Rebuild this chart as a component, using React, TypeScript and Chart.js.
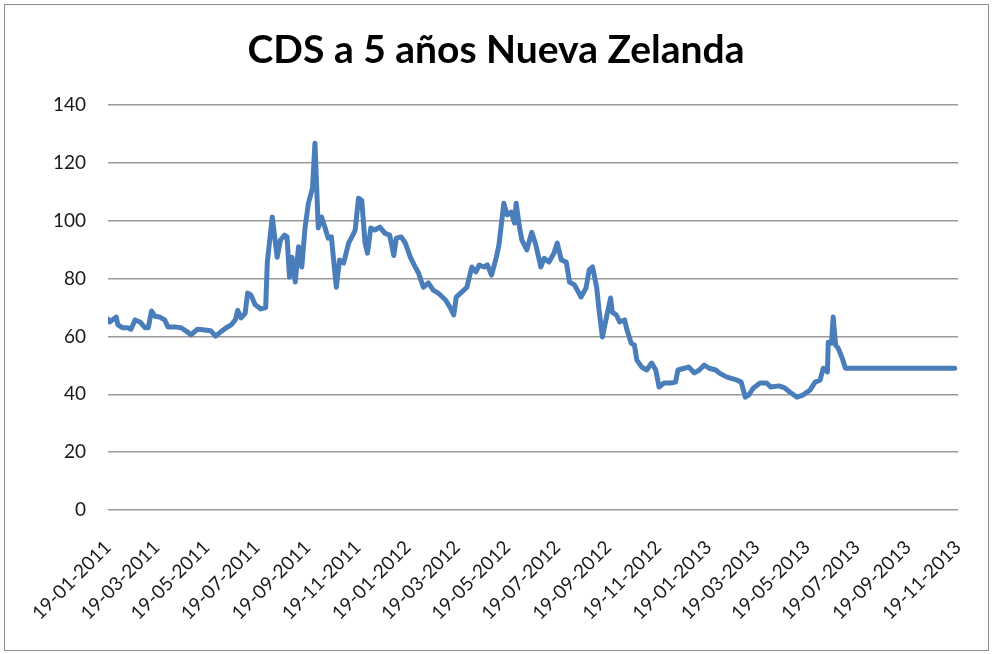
import React, { useEffect, useRef } from "react";
import { Chart, registerables } from "chart.js";

Chart.register(...registerables);

const TITLE = "CDS a 5 años Nueva Zelanda";

const dates: string[] = [
  "2011-01-19", "2011-01-21", "2011-01-29", "2011-01-31", "2011-02-06", "2011-02-12", "2011-02-16", "2011-02-21",
  "2011-02-27", "2011-03-05", "2011-03-09", "2011-03-13", "2011-03-17", "2011-03-23", "2011-03-29", "2011-04-02",
  "2011-04-10", "2011-04-18", "2011-04-26", "2011-04-30", "2011-05-08", "2011-05-17", "2011-05-24", "2011-05-30",
  "2011-06-05", "2011-06-12", "2011-06-18", "2011-06-23", "2011-06-26", "2011-06-30", "2011-07-05", "2011-07-08",
  "2011-07-12", "2011-07-17", "2011-07-24", "2011-07-30", "2011-08-01", "2011-08-07", "2011-08-13", "2011-08-17",
  "2011-08-22", "2011-08-25", "2011-08-28", "2011-08-31", "2011-09-04", "2011-09-08", "2011-09-12", "2011-09-16",
  "2011-09-20", "2011-09-25", "2011-09-28", "2011-10-02", "2011-10-06", "2011-10-10", "2011-10-14", "2011-10-18",
  "2011-10-24", "2011-10-28", "2011-11-02", "2011-11-08", "2011-11-12", "2011-11-16", "2011-11-20", "2011-11-24",
  "2011-11-28", "2011-12-01", "2011-12-05", "2011-12-10", "2011-12-16", "2011-12-22", "2011-12-28", "2012-01-02",
  "2012-01-05", "2012-01-11", "2012-01-16", "2012-01-22", "2012-01-28", "2012-02-01", "2012-02-07", "2012-02-13",
  "2012-02-19", "2012-02-25", "2012-03-05", "2012-03-11", "2012-03-15", "2012-03-18", "2012-03-25", "2012-03-31",
  "2012-04-06", "2012-04-11", "2012-04-15", "2012-04-21", "2012-04-25", "2012-04-30", "2012-05-06", "2012-05-09",
  "2012-05-15", "2012-05-19", "2012-05-24", "2012-05-28", "2012-05-30", "2012-06-03", "2012-06-06", "2012-06-12",
  "2012-06-18", "2012-06-23", "2012-06-29", "2012-07-03", "2012-07-09", "2012-07-15", "2012-07-19", "2012-07-24",
  "2012-07-30", "2012-08-03", "2012-08-09", "2012-08-17", "2012-08-23", "2012-08-27", "2012-08-31", "2012-09-05",
  "2012-09-08", "2012-09-12", "2012-09-17", "2012-09-22", "2012-09-24", "2012-09-29", "2012-10-03", "2012-10-09",
  "2012-10-12", "2012-10-17", "2012-10-21", "2012-10-24", "2012-10-30", "2012-11-05", "2012-11-11", "2012-11-16",
  "2012-11-20", "2012-11-26", "2012-12-04", "2012-12-10", "2012-12-13", "2012-12-21", "2012-12-26", "2013-01-02",
  "2013-01-08", "2013-01-14", "2013-01-20", "2013-01-28", "2013-02-01", "2013-02-10", "2013-02-22", "2013-02-28",
  "2013-03-05", "2013-03-09", "2013-03-15", "2013-03-23", "2013-03-31", "2013-04-05", "2013-04-15", "2013-04-22",
  "2013-04-28", "2013-05-07", "2013-05-14", "2013-05-23", "2013-05-29", "2013-06-04", "2013-06-08", "2013-06-13",
  "2013-06-14", "2013-06-18", "2013-06-20", "2013-06-23", "2013-06-26", "2013-07-01", "2013-07-05", "2013-11-15",
];

const cdsValues: number[] = [
  66, 65, 66.7, 64, 63, 63, 62.5, 65.7,
  65, 63, 63, 68.8, 67, 66.7, 65.7, 63.3,
  63.3, 63, 61.5, 60.5, 62.5, 62.2, 62, 60.1,
  61.5, 63, 64, 65.7, 69, 66.4, 68, 75,
  74.3, 71, 69.5, 70, 85.7, 101.3, 87.4, 93.3,
  95, 94.4, 80.5, 87.4, 78.8, 91, 84, 97.8,
  106, 111.3, 126.8, 97.5, 101.3, 97.8, 94, 94.4,
  77, 86.4, 85.4, 92.3, 94.4, 96.8, 107.8, 107,
  92.3, 88.8, 97.5, 96.8, 97.8, 95.7, 95, 88,
  94, 94.4, 92.3, 87.5, 84, 82, 77, 78.5,
  76, 75, 72.6, 69.8, 67.4, 73.6, 75.4, 77,
  84, 82.3, 84.7, 84, 84.7, 81.2, 87.5, 91.6,
  106, 102, 103, 99.2, 106, 97.8, 93.3, 89.9,
  96, 91.6, 84, 87, 85.7, 88.8, 92.3, 86.4,
  85.7, 78.8, 77.8, 73.6, 76.7, 83, 84, 77,
  69, 59.8, 66.7, 73.3, 68.4, 67.4, 65, 65.7,
  62.2, 57.7, 57, 51.8, 49.4, 48.4, 50.8, 48.4,
  42.5, 43.9, 43.9, 44.2, 48.4, 49, 49.4, 47.4,
  48.4, 50.1, 49, 48.4, 47.4, 46, 45, 44.2,
  39, 39.7, 42.2, 43.9, 43.9, 42.5, 42.9, 42.2,
  40.8, 39, 39.7, 41.5, 44.2, 44.9, 49, 47.7,
  58, 57.7, 66.7, 57, 56, 52.5, 49, 49,
];

const tickLabels: string[] = [
  "19-01-2011", "19-03-2011", "19-05-2011", "19-07-2011", "19-09-2011", "19-11-2011",
  "19-01-2012", "19-03-2012", "19-05-2012", "19-07-2012", "19-09-2012", "19-11-2012",
  "19-01-2013", "19-03-2013", "19-05-2013", "19-07-2013", "19-09-2013", "19-11-2013",
];

const yMin = 0;
const yMax = 140;
const yStep = 20;

const ORIGIN = Date.UTC(2011, 0, 19);
const isoToDay = (s: string) => {
  const [y, m, d] = s.split("-").map(Number);
  return (Date.UTC(y, m - 1, d) - ORIGIN) / 86400000;
};
const labelToDay = (s: string) => {
  const [d, m, y] = s.split("-").map(Number);
  return (Date.UTC(y, m - 1, d) - ORIGIN) / 86400000;
};

const FONT = "Lato, 'Noto Sans', sans-serif";

const borderPlugin = {
  id: "chartBorder",
  beforeDraw(chart: any) {
    const ctx = chart.ctx;
    ctx.save();
    ctx.fillStyle = "#ffffff";
    ctx.fillRect(0, 0, chart.width, chart.height);
    ctx.strokeStyle = "#8e8e8e";
    ctx.lineWidth = 1;
    ctx.strokeRect(4.5, 4.5, 984, 646);
    ctx.restore();
  },
};

export default function App() {
  const ref = useRef<HTMLCanvasElement | null>(null);

  useEffect(() => {
    if (!ref.current) return;
    const points = dates.map((d, i) => ({ x: isoToDay(d), y: cdsValues[i] }));
    const tickDays = tickLabels.map(labelToDay);
    const chart = new Chart(ref.current, {
      type: "line",
      data: {
        datasets: [
          {
            label: "CDS",
            data: points,
            borderColor: "#4A7EBB",
            backgroundColor: "#4A7EBB",
            borderWidth: 5,
            pointRadius: 0,
            tension: 0,
            borderJoinStyle: "round",
            borderCapStyle: "round",
          },
        ],
      },
      options: {
        animation: false,
        responsive: false,
        maintainAspectRatio: false,
        layout: { padding: 0 },
        plugins: {
          legend: { display: false },
          tooltip: { enabled: false },
          title: {
            display: true,
            text: TITLE,
            color: "#000000",
            font: { family: FONT, size: 39, weight: "bold", lineHeight: 1.2 },
            padding: { top: 27, bottom: 31.2 },
          },
        },
        scales: {
          x: {
            type: "linear",
            min: 0,
            max: tickDays[tickDays.length - 1],
            grid: { display: false, drawTicks: false },
            border: { display: false },
            afterBuildTicks: (scale: any) => {
              scale.ticks = tickDays.map((v) => ({ value: v }));
            },
            afterFit: (scale: any) => {
              scale.height = 144;
              scale.paddingLeft = 0;
              scale.paddingRight = 34;
            },
            ticks: {
              autoSkip: false,
              minRotation: 45,
              maxRotation: 45,
              padding: 26,
              color: "#1a1a1a",
              font: { family: FONT, size: 19 },
              callback: (_v: any, i: number) => tickLabels[i],
            },
          },
          y: {
            min: yMin,
            max: yMax,
            grid: { color: "#9a9a9a", lineWidth: 1.5, drawTicks: false },
            border: { display: false },
            afterFit: (scale: any) => {
              scale.width = 108;
            },
            ticks: {
              stepSize: yStep,
              padding: 22,
              color: "#1a1a1a",
              font: { family: FONT, size: 19 },
            },
          },
        },
      },
      plugins: [borderPlugin],
    });
    return () => chart.destroy();
  }, []);

  return (
    <div style={{ position: "fixed", left: 0, top: 0, width: 992, height: 654, background: "#fff" }}>
      <canvas ref={ref} width={992} height={654} style={{ display: "block" }} />
    </div>
  );
}
